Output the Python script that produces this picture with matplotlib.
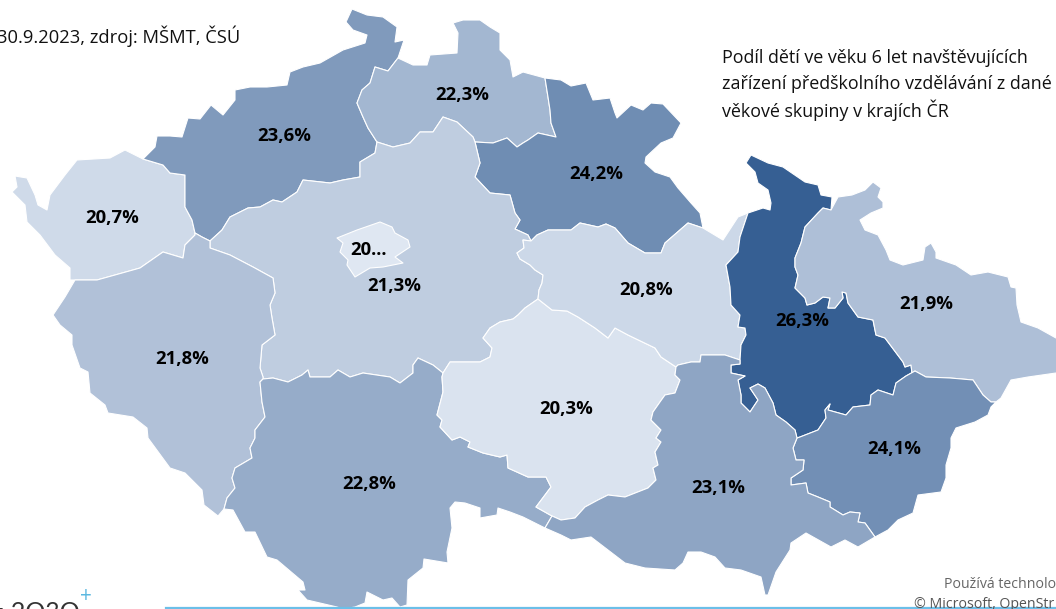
import matplotlib
matplotlib.use("Agg")
import matplotlib.pyplot as plt
from matplotlib.colors import LinearSegmentedColormap, Normalize
from matplotlib.patches import Polygon

# hodnoty podle kraju
regions = ["Karlovarsky", "Ustecky", "Liberecky", "Kralovehradecky", "Stredocesky", "Praha", "Plzensky",
           "Jihocesky", "Vysocina", "Pardubicky", "Olomoucky", "Moravskoslezsky", "Zlinsky", "Jihomoravsky"]
values = [20.7, 23.6, 22.3, 24.2, 21.3, 20.1, 21.8, 22.8, 20.3, 20.8, 26.3, 21.9, 24.1, 23.1]
labels = ["20,7%", "23,6%", "22,3%", "24,2%", "21,3%", "20...", "21,8%", "22,8%", "20,3%", "20,8%", "26,3%",
          "21,9%", "24,1%", "23,1%"]
label_pos = [(112, 218), (284, 136), (462, 95), (596, 174), (394, 286), (369, 250), (182, 359), (369, 484),
             (566, 409), (646, 290), (802, 321), (926, 304), (894, 449), (718, 488)]

# hranice krajů v pixelech obrázku (sdílené úseky)
u_k = [(143, 159), (163, 165), (170, 173), (185, 175), (185, 207), (192, 220), (195, 233)]
u_p = [(195, 233), (202, 237), (210, 241)]
s_p = [(210, 241), (210, 248), (230, 255), (253, 267), (273, 278), (275, 293), (270, 305), (272, 318), (275, 335),
       (262, 345), (260, 368), (263, 377), (263, 379)]
p_j = [(263, 379), (260, 382), (262, 402), (265, 417), (255, 430), (255, 438), (250, 448), (252, 458), (235, 468),
       (232, 478), (235, 488), (227, 498), (224, 509)]
s_j = [(263, 379), (273, 378), (288, 382), (302, 375), (308, 370), (310, 377), (330, 377), (338, 370), (350, 377),
       (363, 373), (390, 377), (400, 383), (413, 373), (413, 365), (418, 358), (433, 365), (443, 373)]
s_v = [(443, 373), (450, 362), (480, 362), (490, 357), (492, 348), (483, 338), (490, 328), (500, 322), (513, 319),
       (518, 315), (525, 308), (538, 299)]
s_pa = [(538, 299), (539, 290), (542, 283), (543, 275), (535, 270), (530, 265), (520, 259), (517, 253), (524, 248),
        (523, 240), (531, 241)]
s_h = [(531, 241), (528, 235), (515, 229), (520, 220), (515, 213), (510, 195), (490, 193), (475, 177), (480, 163),
       (475, 142)]
s_l = [(475, 142), (473, 137), (457, 122), (443, 117), (433, 132), (420, 132), (410, 143), (393, 147), (377, 142)]
s_u = [(377, 142), (375, 153), (360, 162), (360, 177), (343, 180), (330, 183), (303, 180), (297, 192), (282, 202),
       (273, 200), (260, 207), (248, 208), (230, 217), (222, 230), (210, 241)]
u_l = [(398, 58), (388, 71), (375, 67), (370, 83), (362, 90), (357, 103), (363, 117), (368, 128), (377, 142)]
l_h = [(475, 142), (493, 143), (507, 138), (517, 147), (523, 143), (528, 140), (538, 133), (556, 137), (551, 123),
       (550, 110), (548, 97), (545, 78)]
h_pa = [(531, 241), (537, 235), (548, 230), (571, 230), (580, 223), (598, 227), (606, 224), (615, 228), (628, 243),
        (645, 253), (661, 253), (665, 243), (688, 223), (703, 228)]
pa_v = [(538, 299), (552, 310), (567, 311), (578, 317), (595, 328), (608, 338), (615, 328), (628, 335), (655, 348),
        (661, 357), (676, 367)]
pa_m = [(676, 367), (678, 365), (691, 362), (700, 362), (701, 355), (725, 355), (740, 360)]
pa_o = [(740, 360), (741, 345), (746, 335), (745, 328), (738, 327), (740, 315), (731, 305), (730, 287), (726, 265),
        (738, 252), (740, 237), (748, 213)]
v_m = [(676, 367), (675, 375), (680, 380), (675, 393), (665, 395), (660, 402), (653, 412), (651, 420), (661, 430),
       (656, 438), (661, 442), (655, 452), (658, 465), (653, 468), (656, 480), (648, 488), (625, 497), (608, 495),
       (598, 500), (585, 507), (575, 518), (561, 520), (552, 516)]
v_j = [(552, 516), (536, 507), (551, 487), (546, 477), (528, 477), (508, 468), (507, 455), (500, 457), (483, 453),
       (468, 447), (470, 442), (460, 437), (452, 440), (440, 427), (442, 420), (437, 415), (443, 392), (442, 377),
       (443, 373)]
j_m = [(552, 516), (545, 528)]
m_z = [(875, 537), (865, 523), (858, 522), (860, 513), (850, 512), (843, 515), (830, 507), (830, 502), (818, 497),
       (808, 493), (806, 483), (791, 485), (791, 478), (803, 470), (804, 460), (796, 460), (793, 448), (797, 438)]
m_o = [(797, 438), (795, 430), (786, 422), (776, 415), (773, 403), (765, 388), (758, 384), (750, 388), (758, 400),
       (750, 412), (741, 403), (741, 395), (738, 380), (745, 376), (731, 373), (731, 365), (740, 364), (740, 360)]
o_z = [(797, 438), (800, 437), (818, 430), (826, 418), (825, 410), (830, 404), (828, 410), (846, 415), (853, 407),
       (870, 405), (871, 395), (878, 390), (893, 395), (896, 383), (906, 376), (915, 371)]
o_ms = [(915, 371), (912, 373), (911, 365), (905, 367), (903, 362), (885, 338), (876, 335), (873, 320), (858, 317),
        (848, 303), (846, 293), (842, 292), (843, 298), (835, 308), (828, 308), (830, 298), (823, 297), (815, 303),
        (807, 305), (805, 298), (795, 288), (798, 275), (795, 267), (795, 258), (801, 243), (805, 227), (818, 213),
        (823, 208), (831, 210)]
ms_z = [(915, 371), (926, 377), (950, 378), (973, 380), (983, 395), (991, 402), (996, 402)]

# vnější obrys
out_k = [(143, 159), (125, 150), (110, 158), (77, 160), (65, 175), (50, 195), (47, 210), (38, 205), (35, 195),
         (27, 178), (15, 176), (17, 187), (12, 192), (25, 205), (27, 222), (40, 235), (55, 255), (70, 268), (70, 280),
         (75, 280)]
k_p = [(75, 280), (85, 280), (97, 280), (115, 275), (140, 268), (163, 252), (183, 258), (185, 245), (195, 235),
       (195, 233)]
out_u = [(143, 159), (155, 147), (157, 136), (170, 136), (182, 137), (188, 118), (200, 119), (211, 105), (223, 115),
         (235, 100), (235, 90), (250, 87), (267, 87), (287, 85), (290, 72), (303, 67), (320, 63), (343, 50), (365, 43),
         (367, 35), (353, 30), (346, 22), (352, 9), (367, 15), (383, 17), (397, 27), (395, 42), (404, 40), (398, 58)]
out_l = [(398, 58), (413, 65), (427, 65), (430, 55), (457, 53), (458, 33), (453, 23), (463, 20), (480, 20), (490, 27),
         (500, 33), (500, 50), (510, 60), (513, 77), (523, 72), (545, 78)]
out_h = [(545, 78), (561, 80), (571, 86), (586, 83), (593, 100), (610, 98), (615, 113), (617, 118), (631, 105),
         (643, 110), (651, 103), (663, 104), (681, 123), (673, 138), (661, 143), (646, 157), (645, 163), (655, 172),
         (670, 177), (678, 188), (691, 203), (700, 213), (703, 228)]
out_pa = [(703, 228), (723, 240), (738, 217), (748, 213)]
out_o = [(748, 213), (763, 208), (770, 210), (771, 203), (768, 190), (758, 183), (755, 172), (746, 163), (751, 155),
         (768, 163), (783, 167), (805, 182), (818, 185), (821, 195), (832, 197), (831, 210)]
out_ms = [(831, 210), (838, 197), (852, 195), (865, 190), (873, 182), (881, 188), (878, 197), (883, 202), (883, 208),
          (871, 213), (860, 220), (865, 230), (878, 235), (886, 250), (890, 260), (903, 265), (923, 260), (925, 247),
          (931, 243), (936, 252), (936, 258), (956, 265), (971, 275), (988, 272), (1008, 277), (1011, 287), (1016, 288),
          (1017, 305), (1021, 322), (1038, 328), (1056, 338), (1075, 345), (1075, 372), (1056, 373), (1028, 377),
          (1011, 380), (1001, 398), (996, 402)]
out_z = [(996, 402), (991, 407), (988, 415), (975, 422), (956, 428), (951, 438), (951, 448), (946, 465), (946, 478),
         (941, 492), (918, 495), (913, 513), (898, 520), (888, 530), (875, 537)]
out_m = [(545, 528), (561, 535), (571, 540), (591, 537), (608, 550), (625, 563), (645, 568), (675, 570), (683, 563),
         (688, 552), (701, 552), (715, 557), (725, 568), (741, 570), (761, 577), (765, 595), (768, 595), (776, 572),
         (790, 550), (791, 543), (806, 533), (831, 547), (845, 540), (858, 547), (875, 537)]
out_j = [(224, 509), (233, 510), (245, 532), (255, 532), (267, 557), (277, 560), (303, 582), (305, 590), (298, 590),
         (307, 600), (337, 607), (343, 609), (355, 607), (365, 603), (367, 592), (383, 600), (392, 598), (400, 607),
         (407, 605), (408, 580), (423, 568), (424, 559), (448, 563), (447, 552), (452, 528), (450, 508), (455, 502),
         (465, 503), (480, 508), (480, 518), (497, 515), (498, 508), (510, 512), (523, 517), (545, 528)]
out_p = [(75, 280), (65, 297), (53, 315), (60, 325), (72, 335), (72, 345), (80, 368), (88, 372), (90, 393), (105, 405),
         (108, 413), (133, 417), (147, 428), (148, 438), (170, 468), (185, 473), (202, 490), (204, 505), (218, 516),
         (224, 509)]
praha = [(337, 238), (357, 230), (380, 222), (392, 227), (395, 233), (408, 240), (410, 247), (395, 257), (403, 263),
         (383, 267), (370, 268), (355, 277), (347, 265), (348, 260), (340, 252), (343, 243)]


def rev(seg):
    return seg[::-1]


shapes = {
    "Karlovarsky": rev(out_k) + u_k + rev(k_p),
    "Ustecky": out_u + u_l + s_u + rev(u_p) + rev(u_k),
    "Liberecky": out_l + rev(l_h) + s_l + rev(u_l),
    "Kralovehradecky": out_h + rev(h_pa) + s_h + l_h,
    "Stredocesky": s_u + s_p + s_j + s_v + s_pa + s_h + s_l,
    "Praha": praha,
    "Plzensky": out_p + rev(p_j) + rev(s_p) + rev(u_p) + rev(k_p),
    "Jihocesky": out_j + rev(j_m) + v_j + rev(s_j) + p_j,
    "Vysocina": s_v + pa_v + v_m + v_j,
    "Pardubicky": pa_v + pa_m + pa_o + rev(out_pa) + rev(h_pa) + rev(s_pa),
    "Olomoucky": out_o + rev(o_ms) + rev(o_z) + m_o + pa_o,
    "Moravskoslezsky": out_ms + rev(ms_z) + o_ms,
    "Zlinsky": out_z + m_z + o_z + ms_z,
    "Jihomoravsky": out_m + m_z + m_o + rev(pa_m) + v_m + j_m,
}

title_lines = ["Podíl dětí ve věku 6 let navštěvujících", "zařízení předškolního vzdělávání z dané",
               "věkové skupiny v krajích ČR"]
source_text = "30.9.2023, zdroj: MŠMT, ČSÚ"

plt.rcParams["font.family"] = ["Open Sans", "DejaVu Sans"]

fig = plt.figure(figsize=(10.56, 6.09), dpi=100)
ax = fig.add_axes([0, 0, 1, 1])
ax.set_xlim(0, 1056)
ax.set_ylim(609, 0)
ax.axis("off")

cmap = LinearSegmentedColormap.from_list("kraje", ["#E2E9F4", "#365F93"])
norm = Normalize(vmin=20.0, vmax=26.3)

# Praha az nakonec, lezi uvnitr Stredoceskeho kraje
for name, val in zip(regions, values):
    ax.add_patch(Polygon(shapes[name], closed=True, facecolor=cmap(norm(val)), edgecolor="white", linewidth=0.8,
                         joinstyle="round", zorder=3 if name == "Praha" else 2))

for txt, (x, y) in zip(labels, label_pos):
    ax.text(x, y, txt, ha="center", va="center", fontsize=13.3, fontweight="bold", color="black", zorder=5)

ax.text(-3, 36, source_text, ha="left", va="center", fontsize=13.2, color="#111111")
for line, y in zip(title_lines, [58, 84, 110]):
    ax.text(722, y, line, ha="left", va="center", fontsize=12.9, color="#111111")

# spodni lista
ax.plot([166, 1056], [607.5, 607.5], color="#6CBFE8", linewidth=1.6, zorder=6)
ax.text(944, 585, "Používá technolog", ha="left", va="center", fontsize=10.2, color="#666666")
ax.text(914, 605, "© Microsoft, OpenStr", ha="left", va="center", fontsize=10.2, color="#555555", zorder=7)
ax.text(-10, 612, "= 2O3O", ha="left", va="center", fontsize=18, color="#333333", fontfamily="Lato")
ax.text(86, 597, "+", ha="center", va="center", fontsize=15, color="#5BB8E0")

plt.savefig("out.png", dpi=100)
plt.close()
